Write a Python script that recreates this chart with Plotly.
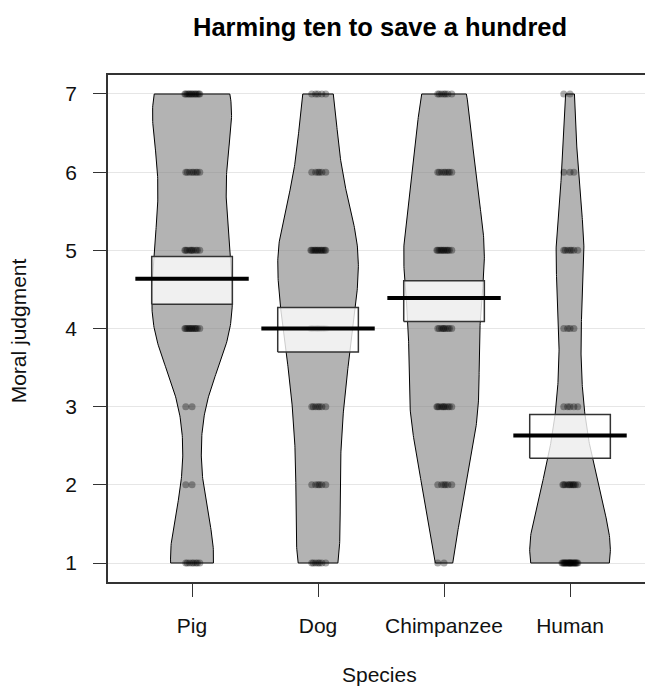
import numpy as np
import plotly.graph_objects as go

# Responses on the 1-7 moral judgment scale, counted per species
SPECIES = ["Pig", "Dog", "Chimpanzee", "Human"]
RESPONSES = [1, 2, 3, 4, 5, 6, 7]
PIG_COUNTS = [8, 2, 2, 12, 10, 8, 13]
DOG_COUNTS = [7, 6, 7, 10, 13, 6, 5]
CHIMP_COUNTS = [2, 6, 10, 9, 12, 8, 7]
HUMAN_COUNTS = [22, 11, 5, 4, 7, 3, 2]
# Interval around each mean (drawn as the light box)
INTERVAL_LOW = [4.31, 3.70, 4.09, 2.34]
INTERVAL_HIGH = [4.92, 4.27, 4.61, 2.90]
Y_TICKS = [1, 2, 3, 4, 5, 6, 7]

COUNTS = [PIG_COUNTS, DOG_COUNTS, CHIMP_COUNTS, HUMAN_COUNTS]

BANDWIDTH = 0.6      # Gaussian kernel bandwidth for the beans
BEAN_HALF = 0.32     # maximum half-width of a bean
BOX_HALF = 0.32      # half-width of the interval box
LINE_HALF = 0.45     # half-width of the mean line
JITTER = 0.065       # horizontal spread of the raw points

FONT = "Liberation Sans, Arial, Helvetica, sans-serif"

fig = go.Figure()

for i, (name, counts) in enumerate(zip(SPECIES, COUNTS)):
    cx = i + 1
    vals = np.array(RESPONSES, dtype=float)
    cnt = np.array(counts, dtype=float)
    present = vals[cnt > 0]

    # bean: kernel density cut at the observed min / max
    grid = np.linspace(present.min(), present.max(), 240)
    dens = (cnt[None, :] * np.exp(-0.5 * ((grid[:, None] - vals[None, :]) / BANDWIDTH) ** 2)).sum(axis=1)
    half = dens / dens.max() * BEAN_HALF
    bx = np.concatenate([cx + half, (cx - half)[::-1], [cx + half[0]]])
    by = np.concatenate([grid, grid[::-1], [grid[0]]])
    fig.add_trace(go.Scatter(
        x=bx, y=by, mode="lines", fill="toself",
        fillcolor="rgba(128,128,128,0.6)",
        line=dict(color="black", width=1),
        hoverinfo="skip", showlegend=False))

    # raw points, spread deterministically around the centre
    px, py = [], []
    for v, n in zip(RESPONSES, counts):
        k = np.arange(n)
        offs = ((k * 0.6180339887 + 0.5) % 1.0 - 0.5) * 2 * JITTER if n > 1 else np.zeros(n)
        px.extend(cx + offs)
        py.extend([v] * n)
    fig.add_trace(go.Scatter(
        x=px, y=py, mode="markers",
        marker=dict(color="black", size=7, opacity=0.33, line=dict(width=0)),
        hoverinfo="skip", showlegend=False))

    # interval box
    lo, hi = INTERVAL_LOW[i], INTERVAL_HIGH[i]
    fig.add_trace(go.Scatter(
        x=[cx - BOX_HALF, cx + BOX_HALF, cx + BOX_HALF, cx - BOX_HALF, cx - BOX_HALF],
        y=[lo, lo, hi, hi, lo], mode="lines", fill="toself",
        fillcolor="rgba(255,255,255,0.8)",
        line=dict(color="#333333", width=1.5),
        hoverinfo="skip", showlegend=False))

    # mean line
    mean = float((vals * cnt).sum() / cnt.sum())
    fig.add_trace(go.Scatter(
        x=[cx - LINE_HALF, cx + LINE_HALF], y=[mean, mean], mode="lines",
        line=dict(color="black", width=4),
        hoverinfo="skip", showlegend=False))

fig.update_layout(
    width=645, height=686,
    margin=dict(l=108, r=0, t=75, b=104),
    paper_bgcolor="white", plot_bgcolor="white",
    font=dict(family=FONT, size=21, color="black"),
    showlegend=False,
    xaxis=dict(
        range=[0.333, 4.595],
        tickmode="array", tickvals=[1, 2, 3, 4], ticktext=SPECIES,
        ticks="outside", ticklen=13, tickwidth=1.2, tickcolor="#333333",
        ticklabelstandoff=11,
        showline=True, linecolor="#333333", linewidth=1.5, mirror=True,
        showgrid=False, zeroline=False,
        tickfont=dict(size=21, family=FONT, color="#111111"),
    ),
    yaxis=dict(
        range=[0.757, 7.243],
        tickmode="array", tickvals=Y_TICKS, ticktext=[str(t) for t in Y_TICKS],
        ticks="outside", ticklen=13, tickwidth=1.2, tickcolor="#333333",
        ticklabelstandoff=12,
        showline=True, linecolor="#333333", linewidth=1.5, mirror=False,
        showgrid=True, gridcolor="#E6E6E6", gridwidth=1, zeroline=False,
        tickfont=dict(size=21, family=FONT, color="#111111"),
    ),
    annotations=[
        dict(text="<b>Harming ten to save a hundred</b>", xref="paper", yref="paper",
             x=0.5065, y=1.0947, xanchor="center", yanchor="middle", showarrow=False,
             font=dict(size=25.5, family=FONT, color="black")),
        dict(text="Species", xref="paper", yref="paper",
             x=0.5065, y=-0.1834, xanchor="center", yanchor="middle", showarrow=False,
             font=dict(size=21, family=FONT, color="#111111")),
        dict(text="Moral judgment", xref="paper", yref="paper",
             x=-0.167, y=0.495, xanchor="center", yanchor="middle", showarrow=False,
             textangle=-90, font=dict(size=21, family=FONT, color="#111111")),
    ],
)

fig.write_html("out.html")
